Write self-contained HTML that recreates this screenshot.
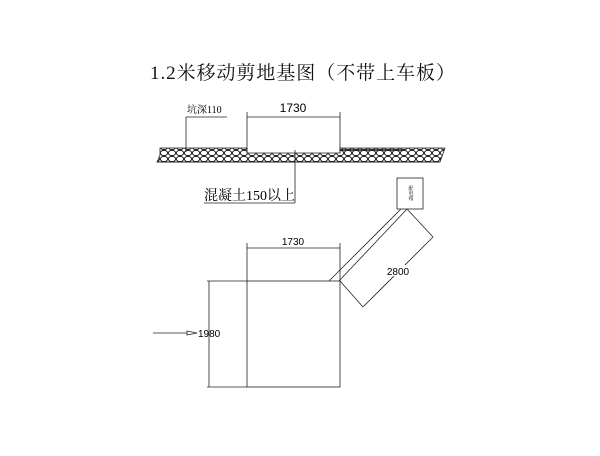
<!DOCTYPE html>
<html><head><meta charset="utf-8"><style>
body{margin:0;background:#fff;}
</style></head><body>
<svg width="600" height="451" viewBox="0 0 600 451" xmlns="http://www.w3.org/2000/svg" font-family="'Liberation Serif','Noto Serif CJK SC',serif">
<defs>
<pattern id="peb" width="8" height="6" patternUnits="userSpaceOnUse">
<ellipse cx="4" cy="3" rx="3.6" ry="2.6" fill="none" stroke="#111" stroke-width="0.9"/>
</pattern>
</defs>
<rect width="600" height="451" fill="#fff"/>
<text x="150" y="79" font-size="19" textLength="305" lengthAdjust="spacing" fill="#111">1.2米移动剪地基图（不带上车板）</text>
<!-- ground -->
<path d="M160 148 L247 148 L247 153 L340 153 L340 148 L445 148 L440 162 L157 162 L160 155 Z" fill="url(#peb)" stroke="#222" stroke-width="0.8"/>
<line x1="340" y1="150" x2="405" y2="150" stroke="#222" stroke-width="1.5" stroke-dasharray="6,2"/>
<line x1="157" y1="162" x2="440" y2="162" stroke="#222" stroke-width="1"/>
<!-- top dim -->
<g stroke="#222" stroke-width="0.8" fill="none">
<line x1="247" y1="112" x2="247" y2="153"/>
<line x1="340" y1="112" x2="340" y2="153"/>
<line x1="247" y1="117" x2="340" y2="117"/>
<line x1="186" y1="117" x2="227" y2="117"/>
<line x1="186" y1="117" x2="186" y2="152"/>
<line x1="295" y1="150" x2="295" y2="203"/>
<line x1="204" y1="203" x2="295" y2="203"/>
</g>
<text x="293" y="112" font-size="12" text-anchor="middle" font-family="'Liberation Sans',sans-serif">1730</text>
<text x="187" y="113" font-size="10">坑深110</text>
<text x="204" y="200" font-size="14">混凝土150以上</text>
<!-- box -->
<rect x="397" y="178" width="26" height="31" fill="#fff" stroke="#222" stroke-width="0.8"/>
<text x="410" y="193" font-size="5" text-anchor="middle" writing-mode="tb">配电箱</text>
<g stroke="#222" stroke-width="0.8" fill="none">
<line x1="329" y1="281" x2="401" y2="209"/>
<line x1="339" y1="281" x2="407" y2="209"/>
<line x1="407" y1="209" x2="433" y2="237"/>
<line x1="433" y1="237" x2="363" y2="307"/>
<line x1="363" y1="307" x2="340" y2="281"/>
<rect x="247" y="281" width="93" height="106"/>
<line x1="247" y1="243" x2="247" y2="281"/>
<line x1="340" y1="243" x2="340" y2="281"/>
<line x1="247" y1="248" x2="340" y2="248"/>
<line x1="209" y1="281" x2="209" y2="387"/>
<line x1="207" y1="281" x2="247" y2="281"/>
<line x1="207" y1="387" x2="247" y2="387"/>
<line x1="153" y1="333" x2="187" y2="333"/>
<path d="M187 331 L197 333 L187 335 Z"/>
</g>
<text x="293" y="245" font-size="10" text-anchor="middle" font-family="'Liberation Sans',sans-serif">1730</text>
<rect x="386" y="265" width="24" height="11" fill="#fff"/>
<text x="398" y="275" font-size="10" text-anchor="middle" font-family="'Liberation Sans',sans-serif">2800</text>
<text x="198" y="337" font-size="10" font-family="'Liberation Sans',sans-serif">1980</text>
</svg>
</body></html>
